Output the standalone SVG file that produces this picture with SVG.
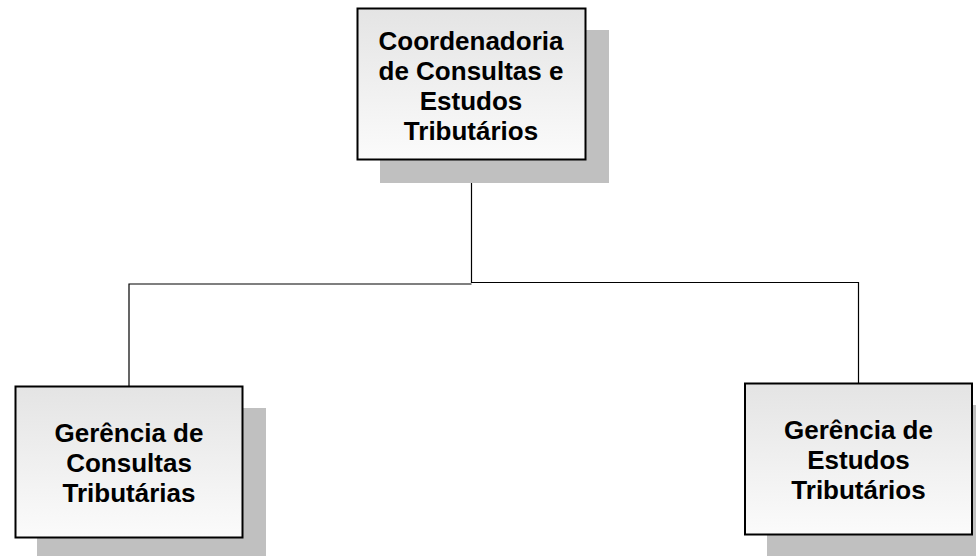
<svg xmlns="http://www.w3.org/2000/svg" width="976" height="556" viewBox="0 0 976 556">
<defs>
<linearGradient id="g" x1="0" y1="0" x2="0" y2="1">
<stop offset="0" stop-color="#e4e4e4"/>
<stop offset="1" stop-color="#fbfbfb"/>
</linearGradient>
<style>
.sh{fill:#c0c0c0}
.bx{fill:url(#g);stroke:#000;stroke-width:2}
.t{font-family:"Liberation Sans",Arial,sans-serif;font-weight:bold;font-size:26px;fill:#000;text-anchor:middle}
.c{fill:none;stroke:#000;stroke-width:1.2}
</style>
</defs>
<rect width="976" height="556" fill="#fff"/>
<g id="connectors">
<path class="c" d="M471.5,160 V283 M129,386 V284 H471.5 M471.5,282.5 H858.5 V383"/>
</g>
<g id="coord">
<rect class="sh" x="380" y="30" width="229" height="153"/>
<rect class="bx" x="357.5" y="8.5" width="228" height="151"/>
<text class="t" x="471" y="49.5">Coordenadoria</text>
<text class="t" x="471" y="79.5">de Consultas e</text>
<text class="t" x="471" y="109.5">Estudos</text>
<text class="t" x="471" y="139.5">Tributários</text>
</g>
<g id="consultas">
<rect class="sh" x="37" y="408" width="229" height="153"/>
<rect class="bx" x="15.5" y="386.5" width="227" height="151"/>
<text class="t" x="129" y="442">Gerência de</text>
<text class="t" x="129" y="472">Consultas</text>
<text class="t" x="129" y="502">Tributárias</text>
</g>
<g id="estudos">
<rect class="sh" x="767" y="405" width="229" height="153"/>
<rect class="bx" x="745" y="383.5" width="227" height="151"/>
<text class="t" x="858.5" y="439">Gerência de</text>
<text class="t" x="858.5" y="469">Estudos</text>
<text class="t" x="858.5" y="499">Tributários</text>
</g>
</svg>
